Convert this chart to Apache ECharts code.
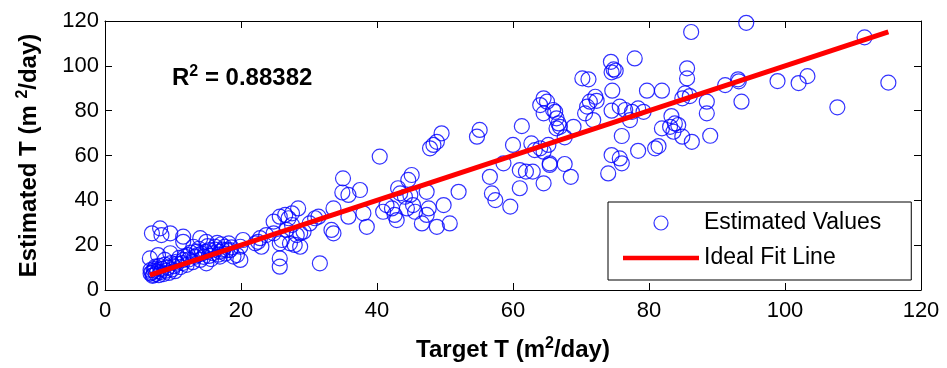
<!DOCTYPE html>
<html>
<head>
<meta charset="utf-8">
<script src="https://cdn.jsdelivr.net/npm/echarts@6/dist/echarts.min.js"></script>
<style>
  html, body { margin: 0; padding: 0; background: #ffffff; }
  #chart { width: 947px; height: 368px; }
</style>
</head>
<body>
<div id="chart"></div>
<script>
// Target transmissivity (m^2/day) for each sample
const targetT = [
  6.7, 6.7, 7.1, 6.9, 6.6, 7.4, 7.8, 8.1, 8.3, 8.8, 9.6, 9.6, 10.5, 11.5, 11.5, 11.5, 12.2, 13.0, 13.5, 14.0,
  14.0, 14.9, 14.9, 15.4, 16.2, 16.9, 16.9, 17.6, 17.9, 18.4, 18.9, 19.4, 19.9, 19.9,
  6.9, 7.0, 7.2, 7.3, 7.5, 7.7, 7.9, 8.0, 8.2, 8.4, 8.6, 8.8, 9.0, 9.2, 9.4, 9.7, 9.9, 10.1, 10.3, 10.6,
  10.9, 11.1, 11.4, 11.7, 12.0, 12.3, 12.6, 12.9, 13.2, 13.6, 13.8, 14.2, 14.5, 14.8, 15.1, 15.3, 15.6, 15.9,
  16.2, 16.5, 16.7, 17.1, 17.3, 17.7, 18.2, 18.6,
  20.3, 22.1, 22.5, 22.8, 23.0, 23.7, 24.8, 24.8, 25.7, 25.7, 25.7, 25.7, 26.0, 26.5, 26.7, 27.0, 27.2, 27.5,
  27.5, 27.9, 28.2, 28.4, 28.7, 28.7, 29.2, 30.1, 30.9, 31.4, 31.6, 33.3, 33.6, 33.6, 34.9, 35.0, 35.8, 35.8,
  37.5, 38.0, 38.5, 40.4, 40.9, 41.4, 42.2, 42.6, 42.9, 43.1, 43.4, 44.1, 44.4, 44.6, 44.9, 45.1, 45.3, 45.6,
  46.6, 47.3, 47.3, 47.6, 47.8, 48.3, 48.8, 48.8, 49.5, 49.8, 50.7, 52.0, 54.7, 55.1, 56.6, 56.9, 57.4, 58.6,
  59.6, 60.0, 61.0, 61.0, 61.3, 61.9, 62.7, 62.9, 63.2, 64.0, 64.0, 64.5, 64.5, 64.5, 64.5, 65.0, 65.2, 65.4,
  65.4, 65.9, 66.2, 66.4, 66.4, 66.7, 66.9, 67.6, 67.6, 68.5, 68.9, 70.2, 70.6, 70.9, 71.1, 71.3, 71.8, 72.1,
  72.3, 74.0, 74.4, 74.5, 74.5, 74.5, 74.6, 74.8, 75.1, 75.7, 75.7, 76.0, 76.0, 76.5, 77.2, 77.5, 77.9, 78.4,
  78.4, 79.2, 79.7, 80.9, 81.4, 81.9, 81.9, 83.1, 83.3, 83.6, 83.8, 84.3, 84.9, 84.9, 85.3, 85.6, 85.6, 86.0,
  86.2, 86.3, 88.5, 88.5, 89.0, 91.2, 93.1, 93.2, 93.6, 94.3, 98.9, 102.0, 103.3, 107.7, 111.7, 115.2
];

// Estimated transmissivity (m^2/day), same order as targetT
const estimatedT = [
  7.4, 8.9, 6.7, 25.3, 14.1, 10.4, 15.6, 27.5, 24.5, 13.4, 25.3, 16.4, 12.6, 23.8, 21.5, 13.4, 15.6, 19.3, 17.1, 23.1,
  13.4, 21.5, 11.9, 17.8, 19.3, 17.1, 14.9, 19.3, 17.8, 17.8, 14.9, 15.6, 13.4, 19.3,
  7.9, 6.3, 8.6, 9.6, 7.2, 8.3, 6.6, 10.8, 8.0, 9.4, 7.1, 11.3, 8.6, 10.0, 7.6, 12.0, 9.2, 10.6, 8.4, 11.8,
  14.3, 10.2, 12.0, 15.0, 11.2, 13.6, 16.7, 12.4, 14.8, 15.6, 18.4, 16.2, 14.8, 17.0, 19.6, 15.2, 13.8, 16.4,
  18.0, 21.0, 15.8, 20.4, 18.0, 16.2, 20.8, 19.0,
  22.3, 20.8, 21.5, 23.1, 19.3, 24.5, 30.5, 25.3, 32.7, 20.8, 14.1, 10.4, 22.3, 33.5, 26.8, 32.0, 20.8, 29.0,
  34.2, 20.1, 24.5, 36.4, 25.3, 19.3, 26.0, 29.7, 32.0, 32.7, 11.9, 26.8, 25.3, 36.4, 43.5, 49.8, 42.4, 32.7,
  44.6, 34.2, 28.2, 59.5, 34.9, 37.9, 36.4, 33.5, 31.2, 45.4, 43.1, 41.6, 36.4, 49.1, 42.4, 51.3, 37.9, 34.9,
  29.7, 43.8, 33.5, 36.4, 63.2, 64.7, 66.1, 28.2, 69.9, 37.9, 29.7, 43.8, 68.4, 71.4, 50.5, 43.1, 40.1, 56.5,
  37.2, 64.7, 53.5, 45.4, 73.1, 52.8, 65.4, 52.8, 62.4, 82.5, 63.2, 85.5, 78.8, 61.7, 47.6, 84.0, 64.7, 55.8,
  56.5, 80.3, 79.5, 76.6, 72.1, 74.3, 72.8, 68.1, 56.2, 50.5, 72.8, 94.4, 78.8, 81.8, 94.0, 84.0, 75.8, 86.2,
  84.4, 52.0, 101.8, 97.1, 80.0, 60.2, 88.9, 98.4, 97.8, 81.8, 58.7, 68.7, 56.5, 80.3, 75.8, 79.5, 103.3, 81.0,
  62.1, 79.5, 88.9, 63.2, 64.2, 88.9, 72.1, 72.8, 77.6, 70.6, 74.3, 73.6, 68.4, 85.5, 87.7, 98.9, 94.4, 86.5,
  115.1, 66.1, 84.0, 78.8, 68.8, 91.4, 94.0, 93.1, 84.0, 119.2, 93.2, 92.3, 95.4, 81.5, 112.7, 92.5
];

const rSquaredText = '0.88382';
const axisMin = 0;
const axisMax = 120;
const tickStep = 20;

const points = targetT.map((t, i) => [t, estimatedT[i]]);
// 1:1 reference line spanning the range of the target values
const lo = Math.min(...targetT);
const hi = Math.max(...targetT);
const fitLine = [[lo, lo], [hi, hi]];

const FONT = 'Liberation Sans, Arial, Helvetica, sans-serif';

function valueAxis(extra) {
  return Object.assign({
    type: 'value',
    min: axisMin,
    max: axisMax,
    interval: tickStep,
    splitLine: { show: false },
    axisLine: { show: true, onZero: false, lineStyle: { color: '#000', width: 1 } },
    axisTick: { show: true, inside: true, length: 7, lineStyle: { color: '#000', width: 1 } },
    axisLabel: { show: false }
  }, extra);
}

const tickLabel = { show: true, color: '#000', fontSize: 22, fontFamily: FONT };
const titleRich = {
  b: { fontSize: 24, fontWeight: 'bold', fontFamily: FONT, color: '#000', lineHeight: 28 },
  s: { fontSize: 16, fontWeight: 'bold', fontFamily: FONT, color: '#000', verticalAlign: 'top', lineHeight: 28, padding: [0, 0, 14, 0] }
};

const chart = echarts.init(document.getElementById('chart'), null, { renderer: 'canvas' });

chart.setOption({
  animation: false,
  backgroundColor: '#ffffff',
  grid: { left: 105, right: 26, top: 21, bottom: 78, containLabel: false, outerBoundsMode: 'none' },
  xAxis: [
    valueAxis({
      position: 'bottom',
      axisLabel: Object.assign({ margin: 10 }, tickLabel),
      name: '{b|Target T (m}{s|2}{b|/day)}',
      nameLocation: 'middle',
      nameGap: 46,
      nameTextStyle: { rich: titleRich }
    }),
    valueAxis({ position: 'top' })
  ],
  yAxis: [
    valueAxis({
      position: 'left',
      axisLabel: Object.assign({ margin: 6 }, tickLabel),
      name: '{b|Estimated T (m }{s|2}{b|/day)}',
      nameLocation: 'middle',
      nameGap: 62,
      nameTextStyle: { rich: titleRich }
    }),
    valueAxis({ position: 'right' })
  ],
  legend: {
    orient: 'vertical',
    left: 608,
    top: 202,
    padding: [9, 30, 10, 15],
    itemWidth: 76,
    itemHeight: 14,
    itemGap: 11,
    backgroundColor: '#ffffff',
    borderColor: '#000000',
    borderWidth: 1,
    borderRadius: 0,
    textStyle: { color: '#000', fontSize: 23, fontFamily: FONT, lineHeight: 24 },
    data: [
      { name: 'Estimated Values', icon: 'circle',
        itemStyle: { color: 'rgba(0,0,0,0)', borderColor: '#0000ff', borderWidth: 1.2 } },
      { name: 'Ideal Fit Line', icon: 'path://M0,0L76,0L76,4.5L0,4.5Z',
        itemStyle: { color: '#ff0000', borderWidth: 0 } }
    ]
  },
  graphic: [{
    type: 'text',
    left: 172,
    top: 64,
    style: {
      text: '{r|R}{s|2}{r| = ' + rSquaredText + '}',
      rich: {
        r: { fontSize: 24, fontWeight: 'bold', fontFamily: FONT, fill: '#000', lineHeight: 28 },
        s: { fontSize: 16, fontWeight: 'bold', fontFamily: FONT, fill: '#000', verticalAlign: 'top', lineHeight: 28, padding: [0, 0, 14, 0] }
      }
    }
  }],
  series: [
    {
      name: 'Estimated Values',
      type: 'scatter',
      xAxisIndex: 0,
      yAxisIndex: 0,
      symbol: 'circle',
      symbolSize: 15,
      itemStyle: { color: 'rgba(0,0,0,0)', borderColor: '#0000ff', borderWidth: 1.2 },
      data: points,
      z: 2
    },
    {
      name: 'Ideal Fit Line',
      type: 'line',
      xAxisIndex: 0,
      yAxisIndex: 0,
      symbol: 'none',
      lineStyle: { color: '#ff0000', width: 5 },
      itemStyle: { color: '#ff0000' },
      data: fitLine,
      z: 3
    }
  ]
});
</script>
</body>
</html>
